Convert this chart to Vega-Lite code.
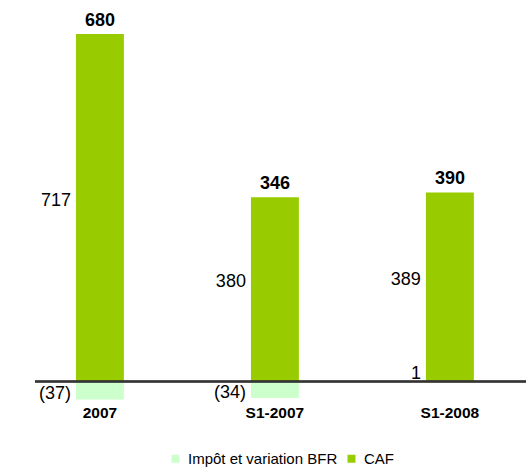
{
  "$schema": "https://vega.github.io/schema/vega-lite/v6.json",
  "width": 491,
  "height": 401,
  "autosize": {"type": "none"},
  "padding": {"left": 35, "top": 0, "right": 0, "bottom": 67},
  "config": {"view": {"stroke": null}, "font": "Liberation Sans",
             "legend": {"layout": {"bottom": {"anchor": "middle"}}}},
  "data": {"values": [
    {"cat": "2007", "series": "Impôt et variation BFR", "value": -37},
    {"cat": "2007", "series": "CAF", "value": 717},
    {"cat": "S1-2007", "series": "Impôt et variation BFR", "value": -34},
    {"cat": "S1-2007", "series": "CAF", "value": 380},
    {"cat": "S1-2008", "series": "Impôt et variation BFR", "value": 1},
    {"cat": "S1-2008", "series": "CAF", "value": 389}
  ]},
  "transform": [
    {"calculate": "datum.series === 'CAF' ? 1 : 0", "as": "ord"},
    {"stack": "value", "groupby": ["cat"], "sort": [{"field": "ord"}], "as": ["v0", "v1"]},
    {"calculate": "(datum.v0 + datum.v1) / 2", "as": "mid"},
    {"calculate": "datum.value < 0 ? '(' + (-datum.value) + ')' : '' + datum.value", "as": "lab"}
  ],
  "layer": [
    {
      "mark": {"type": "bar"},
      "encoding": {
        "x": {"field": "cat", "type": "nominal", "sort": ["2007", "S1-2007", "S1-2008"],
              "scale": {"paddingInner": 0.726, "paddingOuter": 0.266, "align": 0.44},
              "axis": {"title": null, "domain": false, "ticks": false, "labelAngle": 0,
                       "labelFontWeight": "bold", "labelFontSize": 15.5, "labelColor": "#000",
                       "labelPadding": 4, "labelFont": "Liberation Sans"}},
        "y": {"field": "v1", "type": "quantitative",
              "scale": {"domain": [-40, 787], "nice": false, "zero": false}, "axis": null},
        "y2": {"field": "v0"},
        "color": {"field": "series", "type": "nominal",
                  "scale": {"domain": ["Impôt et variation BFR", "CAF"], "range": ["#CCFFCC", "#99CC00"]},
                  "legend": {"title": null, "orient": "bottom", "direction": "horizontal",
                             "symbolType": "square", "symbolSize": 64, "symbolStrokeWidth": 0,
                             "labelFontSize": 15, "labelColor": "#000", "offset": 30,
                             "columnPadding": 6, "labelOffset": 5}}
      }
    },
    {
      "mark": {"type": "rule", "color": "#333", "strokeWidth": 1.5},
      "encoding": {"y": {"datum": 0, "type": "quantitative"}}
    },
    {
      "transform": [{"filter": "datum.value >= 0"}],
      "mark": {"type": "text", "align": "right", "baseline": "bottom", "dy": 2, "dx": -29, "fontSize": 18, "color": "#000"},
      "encoding": {
        "x": {"field": "cat", "type": "nominal", "sort": ["2007", "S1-2007", "S1-2008"]},
        "y": {"field": "mid", "type": "quantitative"},
        "text": {"field": "lab"}
      }
    },
    {
      "transform": [{"filter": "datum.value < 0"}],
      "mark": {"type": "text", "align": "right", "baseline": "middle", "dy": 3, "dx": -29, "fontSize": 18, "color": "#000"},
      "encoding": {
        "x": {"field": "cat", "type": "nominal", "sort": ["2007", "S1-2007", "S1-2008"]},
        "y": {"field": "mid", "type": "quantitative"},
        "text": {"field": "lab"}
      }
    },
    {
      "transform": [
        {"calculate": "max(datum.value, 0)", "as": "pos"},
        {"aggregate": [{"op": "sum", "field": "pos", "as": "top"}, {"op": "sum", "field": "value", "as": "total"}], "groupby": ["cat"]}
      ],
      "mark": {"type": "text", "align": "center", "baseline": "bottom", "dy": -4, "fontSize": 18, "fontWeight": "bold", "color": "#000"},
      "encoding": {
        "x": {"field": "cat", "type": "nominal", "sort": ["2007", "S1-2007", "S1-2008"]},
        "y": {"field": "top", "type": "quantitative"},
        "text": {"field": "total"}
      }
    }
  ]
}
